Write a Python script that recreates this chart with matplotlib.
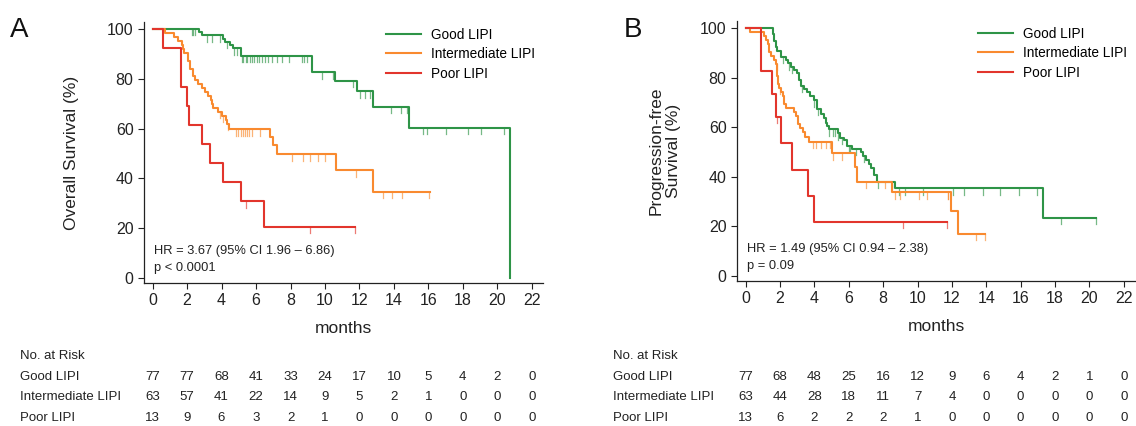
import numpy as np
import matplotlib
matplotlib.use("Agg")
import matplotlib.pyplot as plt
import matplotlib.transforms as mtrans

plt.rcParams['font.family'] = ['Liberation Sans', 'DejaVu Sans']

GREEN = '#2e9447'
ORANGE = '#f98a2f'
RED = '#e2352c'

groups = ["Good LIPI", "Intermediate LIPI", "Poor LIPI"]
months = [0, 2, 4, 6, 8, 10, 12, 14, 16, 18, 20, 22]

# ---- panel A : overall survival ----
osA_good_t = [0, 2.72, 2.84, 4.06, 4.2, 4.49, 4.65, 5.1, 9.23, 10.58, 11.84, 12.8, 14.88, 20.74]
osA_good_s = [100, 98.7, 97.4, 96.1, 94.8, 93.5, 92.2, 89.3, 82.7, 79.3, 75.0, 68.7, 60.3, 0]
osA_good_end = 20.74
osA_good_cens = [2.26, 2.36, 2.46, 3.13, 3.42, 3.9, 4.33, 4.74, 4.9, 5.16, 5.26, 5.4, 5.49, 5.65,
                 5.78, 5.9, 6.03, 6.19, 6.32, 6.52, 6.71, 6.91, 7.2, 7.49, 7.93, 8.65, 8.78, 8.94,
                 9.81, 10.44, 11.64, 12.03, 12.32, 12.61, 13.81, 14.41, 14.74, 15.67, 15.91,
                 17.0, 18.32, 19.05, 20.41]

osA_int_t = [0, 0.71, 1.24, 1.49, 1.68, 1.78, 1.84, 2.07, 2.16, 2.32, 2.46, 2.65, 2.84, 3.03,
             3.23, 3.36, 3.42, 3.52, 3.81, 4.0, 4.25, 4.33, 4.45, 6.81, 6.96, 7.2, 10.64, 12.8]
osA_int_s = [100, 98.4, 96.8, 95.2, 93.7, 92.1, 90.5, 87.3, 84.1, 81.0, 79.4, 77.8, 76.2, 74.6,
             73.0, 71.4, 69.8, 68.3, 66.7, 65.1, 63.5, 61.9, 59.7, 56.5, 53.3, 49.6, 43.3, 34.7]
osA_int_end = 16.1
osA_int_cens = [3.9, 4.1, 4.4, 4.84, 4.97, 5.11, 5.25, 5.36, 5.49, 5.61, 5.75, 6.23, 8.07, 8.74,
                9.13, 9.57, 10.0, 11.8, 13.39, 13.91, 14.49, 16.05]

osA_poor_t = [0, 0.62, 1.67, 1.97, 2.12, 2.88, 3.33, 4.1, 5.1, 6.46]
osA_poor_s = [100, 92.3, 76.9, 69.2, 61.5, 53.8, 46.2, 38.5, 30.8, 20.5]
osA_poor_end = 11.74
osA_poor_cens = [5.42, 9.13, 11.74]

# ---- panel B : progression-free survival ----
pfsB_good_t = [0, 1.58, 1.68, 1.75, 1.81, 2.06, 2.35, 2.45, 2.64, 2.79, 2.99, 3.12, 3.22, 3.41,
               3.56, 3.76, 3.95, 4.18, 4.41, 4.57, 4.66, 4.76, 4.86, 5.38, 5.49, 5.72, 5.92,
               6.2, 6.69, 6.84, 7.03, 7.17, 7.3, 7.46, 7.65, 8.71, 17.32]
pfsB_good_s = [100, 97.4, 94.8, 92.2, 90.9, 88.3, 87.0, 85.7, 84.4, 83.1, 81.8, 79.2, 76.6, 75.3,
               74.0, 72.7, 70.8, 67.5, 65.5, 63.6, 61.7, 60.4, 59.1, 57.5, 55.8, 54.9, 52.5,
               51.2, 49.8, 48.4, 46.9, 45.1, 43.4, 40.7, 38.1, 35.3, 23.5]
pfsB_good_end = 20.4
pfsB_good_cens = [2.2, 2.5, 2.7, 3.3, 4.0, 4.2, 4.86, 5.1, 5.2, 5.4, 5.6, 6.0, 6.1, 6.4, 6.9,
                  7.7, 8.5, 8.9, 9.3, 10.3, 12.08, 12.7, 13.8, 14.78, 15.88, 16.96, 18.35, 20.4]

pfsB_int_t = [0, 0.23, 1.06, 1.16, 1.29, 1.39, 1.49, 1.68, 1.77, 1.83, 1.87, 1.96, 2.06, 2.16,
              2.22, 2.35, 2.83, 2.93, 3.06, 3.18, 3.31, 3.48, 3.66, 5.05, 6.34, 6.46, 8.52,
              11.95, 12.37]
pfsB_int_s = [100, 98.4, 96.8, 95.2, 93.5, 90.3, 88.7, 87.1, 85.5, 80.6, 77.4, 75.8, 74.2, 72.6,
              69.4, 67.7, 66.1, 64.5, 61.3, 59.7, 58.1, 56.1, 54.1, 49.5, 43.8, 37.9, 33.8,
              26.1, 17.0]
pfsB_int_end = 13.95
pfsB_int_cens = [1.8, 2.0, 3.9, 4.08, 4.37, 4.66, 4.91, 5.1, 5.62, 6.98, 8.09, 8.71, 8.96,
                 10.06, 10.58, 11.75, 11.8, 13.43, 13.9]

pfsB_poor_t = [0, 0.87, 1.56, 1.77, 2.08, 2.7, 3.64, 3.95]
pfsB_poor_s = [100, 82.6, 73.2, 64.3, 53.5, 42.8, 32.1, 21.8]
pfsB_poor_end = 11.73
pfsB_poor_cens = [1.8, 9.13, 11.73]

hr_A = ["HR = 3.67 (95% CI 1.96 \u2013 6.86)", "p < 0.0001"]
hr_B = ["HR = 1.49 (95% CI 0.94 \u2013 2.38)", "p = 0.09"]

riskA_good = [77, 77, 68, 41, 33, 24, 17, 10, 5, 4, 2, 0]
riskA_int = [63, 57, 41, 22, 14, 9, 5, 2, 1, 0, 0, 0]
riskA_poor = [13, 9, 6, 3, 2, 1, 0, 0, 0, 0, 0, 0]
riskB_good = [77, 68, 48, 25, 16, 12, 9, 6, 4, 2, 1, 0]
riskB_int = [63, 44, 28, 18, 11, 7, 4, 0, 0, 0, 0, 0]
riskB_poor = [13, 6, 2, 2, 2, 1, 0, 0, 0, 0, 0, 0]


def km(ax, t, s, end, cens, color, label):
    tt = list(t) + [end]
    ss = list(s) + [s[-1]]
    ax.step(tt, ss, where='post', color=color, lw=1.5, label=label, zorder=3)
    # censor marks hang below the curve
    for c in cens:
        idx = np.searchsorted(t, c, side='right') - 1
        y = s[idx]
        ax.plot([c, c], [y, y - 2.6], color=color, lw=0.9, alpha=0.65, zorder=2)


def style_axes(ax, hr):
    ax.set_xlim(-0.5, 22.65)
    ax.set_ylim(-2, 102.8)
    ax.set_xticks(months)
    ax.set_yticks([0, 20, 40, 60, 80, 100])
    for sp in ['top', 'right']:
        ax.spines[sp].set_visible(False)
    for sp in ['left', 'bottom']:
        ax.spines[sp].set_color('#222222')
        ax.spines[sp].set_linewidth(0.9)
    ax.tick_params(direction='out', length=4, width=0.8, color='#222222',
                   labelsize=11.5, labelcolor='#222222')
    ax.set_xlabel('months', fontsize=12.5, color='#222222', labelpad=9)
    ax.legend(loc='upper left', bbox_to_anchor=(0.575, 1.025), frameon=False, fontsize=9.8,
              handlelength=2.6, handletextpad=0.7, labelspacing=0.4)
    ax.text(0.1, 11.0, hr[0], fontsize=9.3, color='#222222', va='center')
    ax.text(0.1, 4.2, hr[1], fontsize=9.3, color='#222222', va='center')


fig = plt.figure(figsize=(11.36, 4.26), dpi=100)
axA = fig.add_axes([144 / 1136, 1 - 283 / 426, 399 / 1136, 261 / 426])
axB = fig.add_axes([737 / 1136, 1 - 281 / 426, 398 / 1136, 260 / 426])

km(axA, osA_good_t, osA_good_s, osA_good_end, osA_good_cens, GREEN, groups[0])
km(axA, osA_int_t, osA_int_s, osA_int_end, osA_int_cens, ORANGE, groups[1])
km(axA, osA_poor_t, osA_poor_s, osA_poor_end, osA_poor_cens, RED, groups[2])
km(axB, pfsB_good_t, pfsB_good_s, pfsB_good_end, pfsB_good_cens, GREEN, groups[0])
km(axB, pfsB_int_t, pfsB_int_s, pfsB_int_end, pfsB_int_cens, ORANGE, groups[1])
km(axB, pfsB_poor_t, pfsB_poor_s, pfsB_poor_end, pfsB_poor_cens, RED, groups[2])

style_axes(axA, hr_A)
style_axes(axB, hr_B)

axA.set_ylabel('Overall Survival (%)', fontsize=12.5, color='#222222')
axA.yaxis.set_label_coords(-0.162, 0.5)
axB.set_ylabel('Progression-free\nSurvival (%)', fontsize=12.5, color='#222222')
axB.yaxis.set_label_coords(-0.14, 0.5)

fig.text(10 / 1136, 1 - 30 / 426, 'A', fontsize=20, color='#111111', va='center')
fig.text(624 / 1136, 1 - 30 / 426, 'B', fontsize=20, color='#111111', va='center')

# risk tables
rowsA = [riskA_good, riskA_int, riskA_poor]
rowsB = [riskB_good, riskB_int, riskB_poor]
row_y = [377, 397.5, 418]
for ax, rows, xlab in [(axA, rowsA, 20), (axB, rowsB, 613)]:
    tr = mtrans.blended_transform_factory(ax.transData, fig.transFigure)
    fig.text(xlab / 1136, 1 - 356 / 426, 'No. at Risk', fontsize=9.5, color='#222222', va='center')
    for name, vals, y in zip(groups, rows, row_y):
        fig.text(xlab / 1136, 1 - y / 426, name, fontsize=9.5, color='#222222', va='center')
        for m, v in zip(months, vals):
            ax.text(m, 1 - y / 426, str(v), transform=tr, fontsize=9.5, color='#222222',
                    ha='center', va='center', clip_on=False)

fig.savefig('out.png', dpi=100)
